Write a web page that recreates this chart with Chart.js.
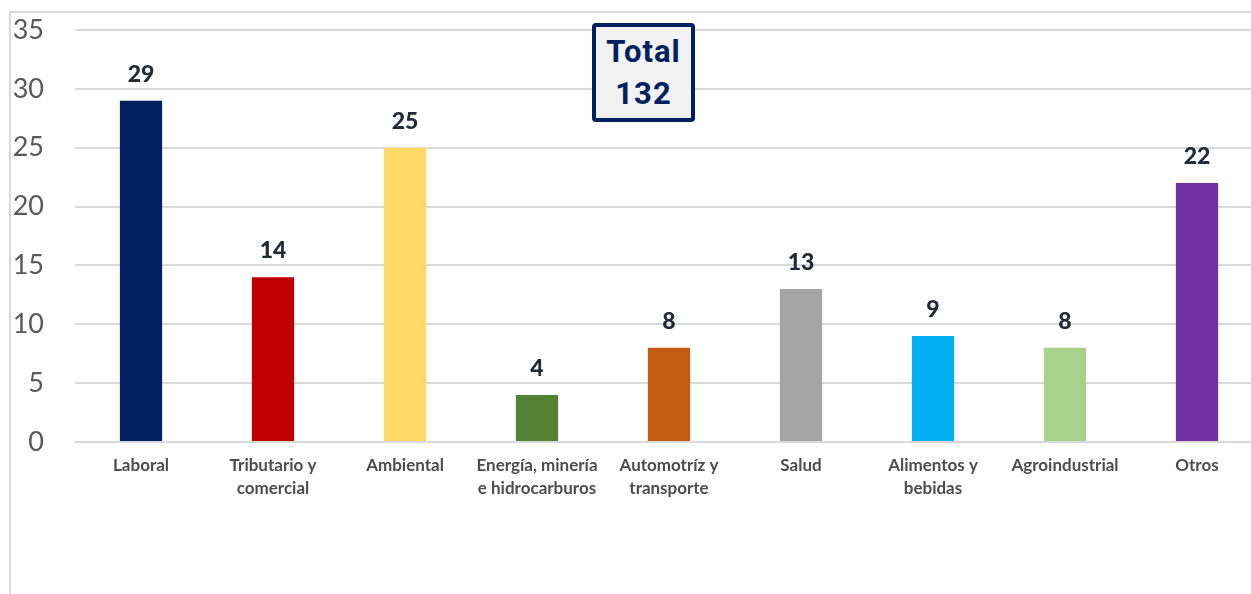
<!DOCTYPE html>
<html>
<head>
<meta charset="utf-8">
<script src="https://cdn.jsdelivr.net/npm/chart.js@4"></script>
<style>
  html, body { margin: 0; padding: 0; background: #fff; overflow: hidden; }
  #wrap { position: relative; width: 1251px; height: 594px; overflow: hidden; }
  #frame { position: absolute; left: 9px; top: 11px; width: 1300px; height: 600px;
           border-left: 2px solid #d9d9d9; border-top: 2px solid #d9d9d9; box-sizing: border-box; }
  #chart { position: absolute; left: 0; top: 0; }
  #total { position: absolute; left: 592px; top: 23px; width: 103px; height: 99px; box-sizing: border-box;
           border: 4px solid #002060; border-radius: 4px; background: #f2f2f2; color: #002060;
           font-family: Roboto, sans-serif; font-weight: bold; font-size: 31px; line-height: 42px;
           text-align: center; padding-top: 4px; letter-spacing: 1px; }
</style>
</head>
<body>
<div id="wrap">
  <div id="frame"></div>
  <canvas id="chart" width="1263" height="594"></canvas>
  <div id="total">Total<br>132</div>
</div>
<script>
const categories = [
    'Laboral',
    ['Tributario y', 'comercial'],
    'Ambiental',
    ['Energía, minería', 'e hidrocarburos'],
    ['Automotríz y', 'transporte'],
    'Salud',
    ['Alimentos y', 'bebidas'],
    'Agroindustrial',
    'Otros'
];
const casos = [29, 14, 25, 4, 8, 13, 9, 8, 22];
const barColors = ['#002060', '#c00000', '#ffd966', '#548235', '#c55a11', '#a5a5a5', '#00b0f0', '#a9d18e', '#7030a0'];
const yTicks = [0, 5, 10, 15, 20, 25, 30, 35];

// etiquetas de valor encima de cada barra
const valueLabels = {
    id: 'valueLabels',
    afterDatasetsDraw(chart) {
        const ctx = chart.ctx;
        const meta = chart.getDatasetMeta(0);
        ctx.save();
        ctx.font = '900 23px Lato, sans-serif';
        ctx.fillStyle = '#222a35';
        ctx.textAlign = 'center';
        ctx.textBaseline = 'alphabetic';
        meta.data.forEach((bar, i) => {
            ctx.fillText(String(casos[i]), bar.x, bar.y - 19);
        });
        ctx.restore();
    }
};

const ctx = document.getElementById('chart').getContext('2d');
new Chart(ctx, {
    type: 'bar',
    data: {
        labels: categories,
        datasets: [{
            data: casos,
            backgroundColor: barColors,
            borderWidth: 0,
            barPercentage: 0.32,
            categoryPercentage: 1
        }]
    },
    options: {
        responsive: false,
        animation: false,
        layout: { padding: { top: 30, right: 0, bottom: 0, left: 0 } },
        plugins: {
            legend: { display: false },
            tooltip: { enabled: false }
        },
        scales: {
            y: {
                min: 0,
                max: 35,
                afterFit(scale) {
                    scale.width = 75;
                    scale.paddingTop = 0;
                    scale.paddingBottom = 0;
                },
                afterBuildTicks(scale) { scale.ticks = yTicks.map(v => ({ value: v })); },
                grid: { color: '#d9d9d9', lineWidth: 2, drawTicks: false },
                border: { display: false },
                ticks: {
                    color: '#595959',
                    padding: 31,
                    font: { family: 'Lato, sans-serif', size: 27 }
                }
            },
            x: {
                afterFit(scale) { scale.height = 152; },
                grid: { display: false, drawTicks: false },
                border: { color: '#d9d9d9', width: 2 },
                ticks: {
                    color: '#4d4d4d',
                    padding: 12,
                    maxRotation: 0,
                    autoSkip: false,
                    font: { family: 'Lato, sans-serif', size: 17, weight: 'bold', lineHeight: 1.35 }
                }
            }
        }
    },
    plugins: [valueLabels]
});
</script>
</body>
</html>
